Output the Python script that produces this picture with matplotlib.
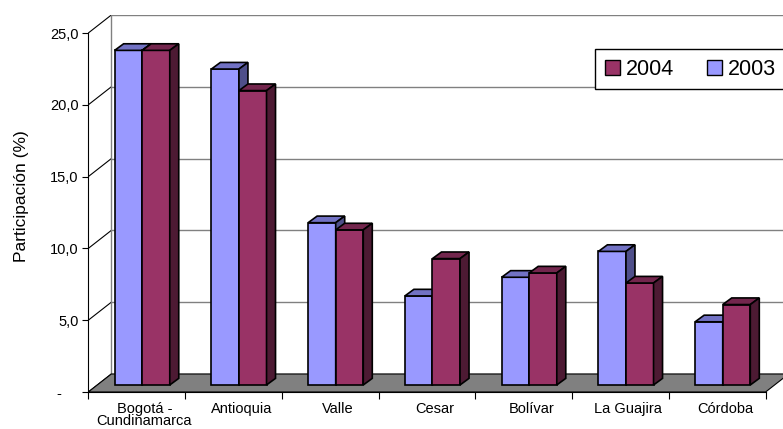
import matplotlib.pyplot as plt
from matplotlib.patches import Polygon, Patch

# data
departamentos = ['Bogotá -\nCundinamarca', 'Antioquia', 'Valle', 'Cesar',
                 'Bolívar', 'La Guajira', 'Córdoba']
part_2003 = [23.3, 22.0, 11.3, 6.2, 7.5, 9.3, 4.4]
part_2004 = [23.3, 20.5, 10.8, 8.8, 7.8, 7.1, 5.6]
y_ticks = [0, 5, 10, 15, 20, 25]
y_labels = ['-    ', '5,0', '10,0', '15,0', '20,0', '25,0']

plt.rcParams['font.family'] = ['Liberation Sans', 'DejaVu Sans']

c03, c03_top, c03_side = '#9999FF', '#7272C4', '#4F4F8A'
c04, c04_top, c04_side = '#993366', '#73264D', '#4D1A33'

# 3d offsets (data units)
DX, DY = 0.238, 1.254      # depth of the floor / back wall
OX, OY = 0.057, 0.49       # where the bars sit in depth
BDX, BDY = 0.093, 0.46     # depth of a bar
W = 0.285

fig = plt.figure(figsize=(7.83, 4.29), dpi=100)
ax = fig.add_axes([88.3 / 783, 37 / 429, (783 - 88.3) / 783, 377 / 429])
n = len(departamentos)
ax.set_xlim(0, 7.18)
ax.set_ylim(0, 25 + DY)

# back wall + gridlines
for k in y_ticks:
    ax.plot([DX, 7.18], [k + DY, k + DY], color='#808080', lw=1, zorder=1)
    ax.plot([0, DX], [k, k + DY], color='black', lw=0.8, zorder=1)
ax.plot([DX, DX], [DY, 25 + DY], color='#808080', lw=1, zorder=1)

# floor
ax.add_patch(Polygon([(0, 0), (n, 0), (n + DX, DY), (DX, DY)],
                     facecolor='#808080', edgecolor='black', lw=0.8, zorder=2))

def box(x0, h, face, top, side, z):
    y0 = OY
    ax.bar(x0, h, width=W, bottom=y0, align='edge', color=face,
           edgecolor='black', lw=1.2, zorder=z)
    ax.add_patch(Polygon([(x0, y0 + h), (x0 + W, y0 + h), (x0 + W + BDX, y0 + h + BDY),
                          (x0 + BDX, y0 + h + BDY)], facecolor=top,
                         edgecolor='black', lw=1.2, zorder=z))
    ax.add_patch(Polygon([(x0 + W, y0), (x0 + W + BDX, y0 + BDY),
                          (x0 + W + BDX, y0 + h + BDY), (x0 + W, y0 + h)],
                         facecolor=side, edgecolor='black', lw=1.2, zorder=z))

z = 3
for i in range(n):
    c = i + 0.5 + OX
    box(c - W, part_2003[i], c03, c03_top, c03_side, z)
    box(c, part_2004[i], c04, c04_top, c04_side, z + 1)
    z += 2

# axes
for s in ['top', 'right']:
    ax.spines[s].set_visible(False)
ax.spines['left'].set_bounds(0, 25)
ax.spines['bottom'].set_bounds(0, n)
ax.spines['bottom'].set_zorder(50)
ax.set_yticks(y_ticks)
ax.set_yticklabels(y_labels, fontsize=10.5)
ax.tick_params(axis='y', length=4, pad=3)
ax.set_xticks(range(n + 1))
ax.set_xticklabels([])
ax.tick_params(axis='x', which='major', length=5)
ax.set_xticks([i + 0.58 for i in range(n)], minor=True)
ax.set_xticklabels(departamentos, minor=True, fontsize=10.5, linespacing=0.85)
ax.tick_params(axis='x', which='minor', length=0, pad=7)

fig.text(22 / 783, 1 - 196 / 429, 'Participación (%)', rotation=90,
         ha='center', va='center', fontsize=12.5)

handles = [Patch(facecolor=c04, edgecolor='black', label='2004'),
           Patch(facecolor=c03, edgecolor='black', label='2003')]
leg = fig.legend(handles=handles, loc='upper left', bbox_to_anchor=(595 / 783, 1 - 49 / 429),
                 ncol=2, fontsize=15.5, frameon=True, fancybox=False,
                 handlelength=0.7, handleheight=0.7, handletextpad=0.3,
                 columnspacing=1.5, borderpad=0.45, borderaxespad=0)
leg.get_frame().set_edgecolor('black')
leg.get_frame().set_linewidth(1)
leg.get_frame().set_alpha(1)

fig.savefig('out.png', dpi=100)
